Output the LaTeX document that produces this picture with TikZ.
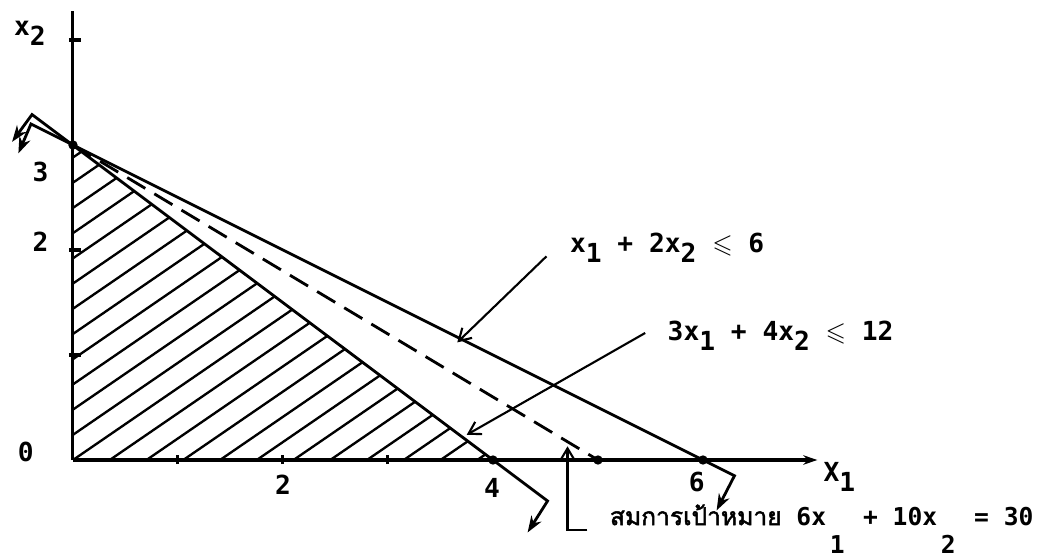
\documentclass[tikz,border=0pt]{standalone}
\usepackage{amssymb}
\usepackage{fontspec}
\setmainfont{DejaVu Sans Mono}
\newfontfamily\thaifont[Script=Thai, AutoFakeBold=2]{Loma}
\usetikzlibrary{arrows.meta}
\newcommand{\dn}[1]{\raisebox{-0.7ex}{#1}}
\newcommand{\lo}[1]{\hspace{0.15em}\raisebox{-2.1ex}{#1}\hspace{0.15em}}

\begin{document}
\begin{tikzpicture}[
        x=1.575cm, y=1.575cm,
        font=\fontsize{11.2}{13}\selectfont\bfseries,
        axis/.style={line width=1.3pt},
        bound/.style={line width=1.2pt, {Stealth[length=7pt,width=5pt]}-{Stealth[length=7pt,width=5pt]}},
        objline/.style={line width=1.2pt, dash pattern=on 9pt off 4.5pt},
        hatch/.style={line width=1pt},
        pointer/.style={line width=0.9pt, -{Straight Barb[length=5pt,width=6pt]}},
        lbl/.style={inner sep=0pt, anchor=base west},
        dot/.style={circle, fill, inner sep=0pt, minimum size=4pt}
    ]
        \useasboundingbox (-0.695,-0.933) rectangle (9.41,4.381);

        \begin{scope}
            \clip (0,0) -- (4,0) -- (0,3) -- cycle;
            \foreach \c in {-4.55,-4.2,...,3.9}
                \draw[hatch] (\c,0) -- ++(5,3.43);
        \end{scope}

        \coordinate (o) at (0,0);
        \coordinate (xend) at (7.09,0);
        \coordinate (yend) at (0,4.28);
        \draw[axis, -{Stealth[length=6pt,width=4pt]}] (o) -- (xend);
        \draw[axis] (o) -- (yend);
        \foreach \t in {1,2,3}
            \draw[axis] (\t,-0.04) -- (\t,0.05);
        \foreach \t in {1,2,4}
            \draw[axis] (-0.04,\t) -- (0.08,\t);

        \coordinate (ba1) at (-0.52,2.92);
        \coordinate (bb1) at (-0.40,3.20);
        \coordinate (bc1) at (6.30,-0.15);
        \coordinate (bd1) at (6.13,-0.48);
        \draw[bound] (ba1) -- (bb1) -- (bc1) -- (bd1);

        \coordinate (ba2) at (-0.58,3.03);
        \coordinate (bb2) at (-0.39,3.29);
        \coordinate (bc2) at (4.52,-0.39);
        \coordinate (bd2) at (4.33,-0.69);
        \draw[bound] (ba2) -- (bb2) -- (bc2) -- (bd2);

        \node[dot] (top) at (0,3) {};
        \node[dot] (four) at (4,0) {};
        \node[dot] (five) at (5,0) {};
        \node[dot] (six) at (6,0) {};
        \draw[objline] (top.center) -- (five.center);

        \node (x2lbl) at (-0.41,4.06) {x\dn{2}};
        \node (y3) at (-0.31,2.74) {3};
        \node (y2) at (-0.31,2.08) {2};
        \node (y0) at (-0.45,0.08) {0};
        \node (x2) at (2.00,-0.24) {2};
        \node (x4) at (3.99,-0.27) {4};
        \node (x6) at (5.94,-0.21) {6};
        \node (x1lbl) at (7.30,-0.16) {X\dn{1}};

        \node[lbl] (c1) at (4.73,1.98) {x\dn{1} + 2x\dn{2} $\leqslant$ 6};
        \node[lbl] (c2) at (5.66,1.14) {3x\dn{1} + 4x\dn{2} $\leqslant$ 12};
        \node[lbl, font=\fontsize{10.5}{12}\selectfont\bfseries] (goal) at (5.11,-0.62) {{\thaifont สมการเป้าหมาย} 6x\lo{1} + 10x\lo{2} = 30};

        \coordinate (p1) at (4.51,1.94);
        \coordinate (q1) at (3.66,1.12);
        \coordinate (p2) at (5.45,1.21);
        \coordinate (q2) at (3.75,0.24);
        \coordinate (p3) at (4.90,-0.67);
        \coordinate (m3) at (4.71,-0.67);
        \coordinate (q3) at (4.71,0.13);
        \draw[pointer] (p1) -- (q1);
        \draw[pointer] (p2) -- (q2);
        \draw[pointer] (p3) -- (m3) -- (q3);
    \end{tikzpicture}
\end{document}
